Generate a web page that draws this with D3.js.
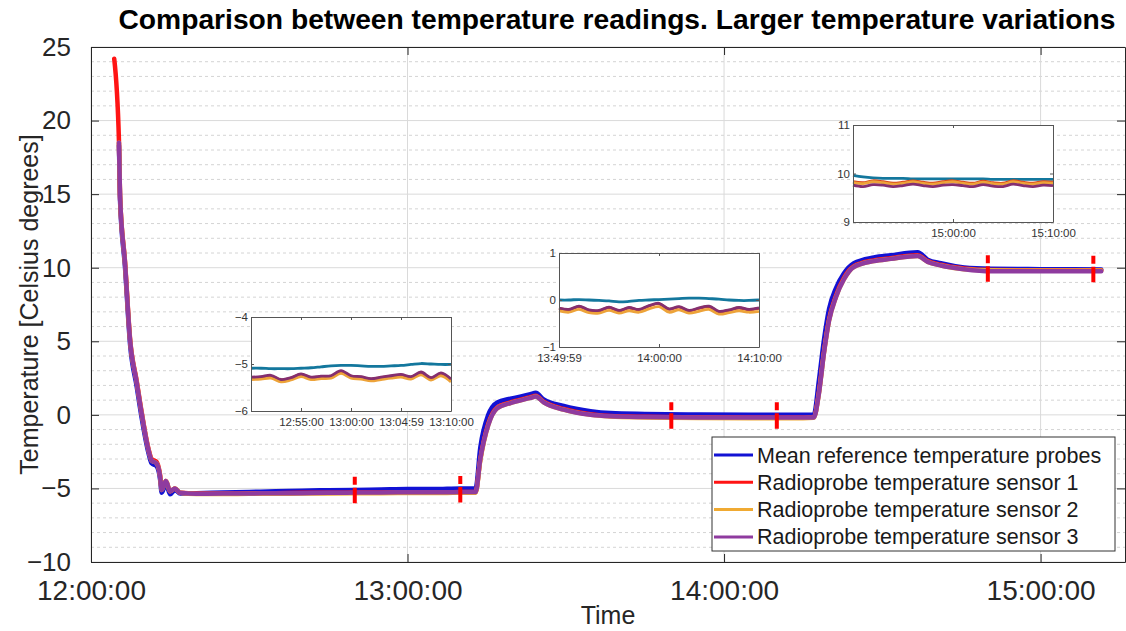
<!DOCTYPE html>
<html>
<head>
<meta charset="utf-8">
<script src="https://cdn.jsdelivr.net/npm/d3@7"></script>
<style>
body{margin:0;background:#fff;}
text{font-family:"Liberation Sans",Arial,sans-serif;}
</style>
</head>
<body>
<svg id="chart" width="1126" height="631"></svg>
<script>
// minutes after 12:00:00
var minutes = [4.4, 5.3, 5.5, 6.45, 7.4, 8.67, 9.6, 10.9, 11.5, 12.45, 13.1, 13.4, 14.2, 15.0, 15.9, 16.9,
	20, 25, 30, 35, 40, 45, 50, 55, 60, 65, 70, 72.9,
	73.8, 75.3, 77.0, 79.5, 83.3, 84.3, 85.8, 89.6, 94.7, 98.5, 105, 115, 125, 135, 137,
	138, 138.9, 139.9, 141.2, 142.7, 144.6, 148.4, 151.6, 156.7, 158.6, 161.1, 165.5, 170.6, 180, 191.5];
var meanRef = [null, 18.3, 14.6, 10.0, 4.8, 1.9, -0.2, -2.6, -3.3, -3.5, -4.4, -5.3, -4.7, -5.4, -5.1, -5.35,
	-5.33, -5.28, -5.24, -5.2, -5.15, -5.12, -5.1, -5.07, -5.04, -5.04, -5.0, -5.0,
	-2.2, 0.0, 0.85, 1.1, 1.4, 1.5, 1.05, 0.6, 0.25, 0.12, 0.06, 0.02, 0.0, 0.0, 0.0,
	2.4, 5.0, 7.2, 8.6, 9.6, 10.3, 10.7, 10.85, 11.05, 10.55, 10.3, 10.02, 9.93, 9.9, 9.88];
var sensor1 = [24.2, 18.6, 14.9, 10.4, 5.2, 2.3, 0.2, -2.3, -3.0, -3.2, -4.1, -5.0, -4.5, -5.2, -5.0, -5.3,
	-5.35, -5.35, -5.33, -5.32, -5.3, -5.3, -5.28, -5.27, -5.26, -5.26, -5.25, -5.25,
	-3.0, -0.6, 0.5, 0.85, 1.2, 1.3, 0.9, 0.4, 0.05, -0.08, -0.13, -0.16, -0.18, -0.18, -0.16,
	1.6, 4.2, 6.5, 8.1, 9.3, 10.1, 10.5, 10.65, 10.85, 10.45, 10.2, 9.95, 9.84, 9.83, 9.83];
var sensor2 = [null, 18.5, 14.9, 10.3, 5.1, 2.2, 0.1, -2.4, -3.1, -3.3, -4.2, -5.1, -4.5, -5.2, -5.0, -5.3,
	-5.38, -5.38, -5.37, -5.36, -5.35, -5.34, -5.33, -5.32, -5.31, -5.31, -5.3, -5.3,
	-3.1, -0.7, 0.45, 0.8, 1.15, 1.25, 0.85, 0.35, 0.0, -0.12, -0.18, -0.22, -0.23, -0.23, -0.2,
	1.5, 4.1, 6.4, 8.0, 9.2, 10.05, 10.45, 10.6, 10.8, 10.4, 10.15, 9.9, 9.82, 9.81, 9.81];
var sensor3 = [null, 18.5, 14.9, 10.3, 5.1, 2.2, 0.1, -2.4, -3.1, -3.3, -4.2, -5.1, -4.5, -5.2, -5.0, -5.3,
	-5.36, -5.35, -5.34, -5.33, -5.32, -5.3, -5.28, -5.27, -5.26, -5.26, -5.25, -5.25,
	-3.0, -0.7, 0.45, 0.8, 1.15, 1.25, 0.85, 0.35, 0.0, -0.1, -0.15, -0.18, -0.18, -0.18, -0.18,
	1.5, 4.1, 6.4, 8.0, 9.2, 10.05, 10.45, 10.6, 10.8, 10.4, 10.15, 9.9, 9.76, 9.76, 9.76];
var seriesNames = ["Mean reference temperature probes", "Radioprobe temperature sensor 1",
	"Radioprobe temperature sensor 2", "Radioprobe temperature sensor 3"];

var xTicks = ["12:00:00", "13:00:00", "14:00:00", "15:00:00"];
var yTicks = [-10, -5, 0, 5, 10, 15, 20, 25];

// red dashed marks: start / end of the zoomed windows
var markTimes = ["12:50:00", "13:10:00", "13:50:00", "14:10:00", "14:50:00", "15:10:00"];
var markValues = [-5.1, -5.05, -0.05, -0.05, 9.95, 9.92];

// insets, one value per minute from the window start
var insetMinutes = [0, 1, 2, 3, 4, 5, 6, 7, 8, 9, 10, 11, 12, 13, 14, 15, 16, 17, 18, 19, 20];

var in1Ref = [-5.09, -5.09, -5.10, -5.10, -5.10, -5.09, -5.08, -5.06, -5.04, -5.03, -5.03, -5.04, -5.05, -5.05, -5.04, -5.03, -5.01, -4.99, -5.00, -5.01, -5.01];
var in1S1 = [-5.29, -5.28, -5.26, -5.34, -5.30, -5.22, -5.29, -5.27, -5.26, -5.16, -5.26, -5.28, -5.32, -5.29, -5.26, -5.24, -5.28, -5.19, -5.30, -5.21, -5.33];
var in1S2 = [-5.33, -5.32, -5.30, -5.38, -5.34, -5.27, -5.33, -5.31, -5.30, -5.20, -5.30, -5.32, -5.36, -5.33, -5.30, -5.28, -5.32, -5.23, -5.34, -5.25, -5.38];
var in1S3 = [-5.28, -5.27, -5.24, -5.33, -5.29, -5.21, -5.28, -5.26, -5.25, -5.14, -5.25, -5.27, -5.31, -5.28, -5.25, -5.22, -5.27, -5.17, -5.29, -5.19, -5.32];
var in1XTicks = ["12:55:00", "13:00:00", "13:05:00", "13:10:00"];
var in1XLabels = ["12:55:00", "13:00:00", "13:04:59", "13:10:00"];
var in1YTicks = [-6, -5, -4];

var in2Ref = [0.00, 0.00, 0.01, 0.00, -0.01, -0.02, -0.04, -0.03, -0.01, 0.00, 0.01, 0.02, 0.03, 0.04, 0.04, 0.03, 0.02, 0.00, -0.01, -0.01, 0.00];
var in2S1 = [-0.18, -0.21, -0.14, -0.22, -0.23, -0.16, -0.23, -0.17, -0.21, -0.13, -0.08, -0.20, -0.15, -0.23, -0.18, -0.14, -0.25, -0.22, -0.17, -0.21, -0.18];
var in2S2 = [-0.23, -0.26, -0.20, -0.27, -0.28, -0.22, -0.28, -0.23, -0.26, -0.19, -0.14, -0.26, -0.21, -0.28, -0.24, -0.20, -0.30, -0.27, -0.23, -0.26, -0.24];
var in2S3 = [-0.17, -0.20, -0.13, -0.21, -0.22, -0.15, -0.22, -0.16, -0.20, -0.12, -0.07, -0.19, -0.14, -0.22, -0.17, -0.13, -0.24, -0.21, -0.16, -0.20, -0.17];
var in2XTicks = ["13:50:00", "14:00:00", "14:10:00"];
var in2XLabels = ["13:49:59", "14:00:00", "14:10:00"];
var in2YTicks = [-1, 0, 1];

var in3Ref = [9.96, 9.93, 9.91, 9.90, 9.90, 9.90, 9.89, 9.89, 9.89, 9.89, 9.89, 9.89, 9.89, 9.89, 9.88, 9.88, 9.88, 9.88, 9.88, 9.88, 9.88];
var in3S1 = [9.83, 9.81, 9.85, 9.83, 9.80, 9.82, 9.85, 9.82, 9.80, 9.83, 9.85, 9.82, 9.80, 9.84, 9.81, 9.80, 9.85, 9.82, 9.80, 9.83, 9.82];
var in3S2 = [9.81, 9.79, 9.83, 9.81, 9.78, 9.80, 9.83, 9.80, 9.78, 9.81, 9.83, 9.80, 9.78, 9.82, 9.79, 9.78, 9.83, 9.80, 9.78, 9.81, 9.80];
var in3S3 = [9.76, 9.73, 9.77, 9.76, 9.73, 9.75, 9.78, 9.75, 9.73, 9.76, 9.77, 9.75, 9.73, 9.77, 9.74, 9.73, 9.78, 9.75, 9.73, 9.76, 9.75];
var in3XTicks = ["14:50:00", "15:00:00", "15:10:00"];
var in3XLabels = ["", "15:00:00", "15:10:00"];
var in3YTicks = [9, 10, 11];

var mainColors = ["#1212d4", "#ff1414", "#f0aa32", "#8f3b9f"];
var insetColors = ["#13779d", "#d9461c", "#eda339", "#842f70"];

var svg = d3.select("#chart");
var parseT = d3.timeParse("%H:%M:%S");
var t0 = parseT("12:00:00");
function atMin(base, m){ return new Date(base.getTime() + m*60000); }

var plot = {left: 91, right: 1125, top: 47, bottom: 562};
var x = d3.scaleTime().domain([parseT("12:00:00"), parseT("15:16:00")]).range([plot.left, plot.right]);
var y = d3.scaleLinear().domain([-10, 25]).range([plot.bottom, plot.top]);

svg.append("rect").attr("x", plot.left).attr("y", plot.top)
	.attr("width", plot.right - plot.left).attr("height", plot.bottom - plot.top)
	.attr("fill", "#fff");

// minor grid (every degree, dotted)
svg.append("g").selectAll("line")
	.data(y.ticks(35).filter(function(v){ return v % 5 !== 0; }))
	.enter().append("line")
	.attr("x1", plot.left).attr("x2", plot.right)
	.attr("y1", function(d){ return y(d); }).attr("y2", function(d){ return y(d); })
	.attr("stroke", "#d4d4d4").attr("stroke-width", 1).attr("stroke-dasharray", "3,3");

// major grid
svg.append("g").selectAll("line")
	.data(yTicks)
	.enter().append("line")
	.attr("x1", plot.left).attr("x2", plot.right)
	.attr("y1", function(d){ return y(d); }).attr("y2", function(d){ return y(d); })
	.attr("stroke", "#dadada").attr("stroke-width", 1);
svg.append("g").selectAll("line")
	.data(xTicks.map(parseT))
	.enter().append("line")
	.attr("y1", plot.top).attr("y2", plot.bottom)
	.attr("x1", function(d){ return x(d); }).attr("x2", function(d){ return x(d); })
	.attr("stroke", "#dadada").attr("stroke-width", 1);

// main lines
var clip = svg.append("clipPath").attr("id", "plotClip").append("rect")
	.attr("x", plot.left).attr("y", plot.top)
	.attr("width", plot.right - plot.left).attr("height", plot.bottom - plot.top);

var line = d3.line()
	.defined(function(d){ return d[1] != null; })
	.curve(d3.curveMonotoneX)
	.x(function(d){ return x(atMin(t0, d[0])); })
	.y(function(d){ return y(d[1]); });

var mainSeries = [meanRef, sensor1, sensor2, sensor3];
var gLines = svg.append("g").attr("clip-path", "url(#plotClip)");
mainSeries.forEach(function(vals, i){
	gLines.append("path")
		.datum(minutes.map(function(m, k){ return [m, vals[k]]; }))
		.attr("d", line)
		.attr("fill", "none")
		.attr("stroke", mainColors[i])
		.attr("stroke-width", 4.5)
		.attr("stroke-linejoin", "round")
		.attr("stroke-linecap", "round");
});

// red dashed marks
svg.append("g").selectAll("line")
	.data(markTimes.map(function(t, i){ return [parseT(t), markValues[i]]; }))
	.enter().append("line")
	.attr("x1", function(d){ return x(d[0]); }).attr("x2", function(d){ return x(d[0]); })
	.attr("y1", function(d){ return y(d[1] + 0.9); }).attr("y2", function(d){ return y(d[1] - 0.9); })
	.attr("stroke", "#ff0000").attr("stroke-width", 4)
	.attr("stroke-dasharray", "8,3,40");

// axes, MATLAB style ticks pointing inwards
var yAxis = svg.append("g").attr("transform", "translate(" + plot.left + ",0)")
	.call(d3.axisLeft(y).tickValues(yTicks).tickSize(-8).tickSizeOuter(0).tickPadding(20));
var yAxisR = svg.append("g").attr("transform", "translate(" + plot.right + ",0)")
	.call(d3.axisRight(y).tickValues(yTicks).tickSize(-8).tickSizeOuter(0).tickFormat(""));
var xAxis = svg.append("g").attr("transform", "translate(0," + plot.bottom + ")")
	.call(d3.axisBottom(x).tickValues(xTicks.map(parseT)).tickSize(-8).tickSizeOuter(0).tickPadding(18)
		.tickFormat(d3.timeFormat("%H:%M:%S")));
var xAxisT = svg.append("g").attr("transform", "translate(0," + plot.top + ")")
	.call(d3.axisTop(x).tickValues(xTicks.map(parseT)).tickSize(-8).tickSizeOuter(0).tickFormat(""));

[yAxis, yAxisR, xAxis, xAxisT].forEach(function(g){
	g.selectAll(".domain").attr("stroke", "#262626");
	g.selectAll(".tick line").attr("stroke", "#262626");
	g.selectAll("text").attr("font-family", "Liberation Sans, Arial, sans-serif")
		.attr("font-size", 26).attr("fill", "#262626");
});
xAxis.selectAll("text").attr("font-size", 28);

// title and axis labels
svg.append("text")
	.attr("x", 617).attr("y", 29)
	.attr("text-anchor", "middle")
	.attr("font-size", 28).attr("font-weight", "bold")
	.attr("textLength", 997).attr("lengthAdjust", "spacingAndGlyphs")
	.text("Comparison between temperature readings. Larger temperature variations");
svg.append("text")
	.attr("transform", "translate(38," + ((plot.top + plot.bottom) / 2) + ") rotate(-90)")
	.attr("text-anchor", "middle")
	.attr("font-size", 25).attr("fill", "#262626")
	.text("Temperature [Celsius degrees]");
svg.append("text")
	.attr("x", (plot.left + plot.right) / 2).attr("y", 624)
	.attr("text-anchor", "middle")
	.attr("font-size", 25).attr("fill", "#262626")
	.text("Time");

// insets
function drawInset(o){
	var ix = d3.scaleTime().domain([parseT(o.from), parseT(o.to)]).range(o.xr);
	var iy = d3.scaleLinear().domain(o.yd).range(o.yr);
	var start = parseT(o.from);
	var g = svg.append("g");
	g.append("rect").attr("x", o.xr[0]).attr("y", o.yr[1])
		.attr("width", o.xr[1] - o.xr[0]).attr("height", o.yr[0] - o.yr[1])
		.attr("fill", "#fff");
	var il = d3.line().curve(d3.curveCatmullRom)
		.x(function(d){ return ix(atMin(start, d[0])); })
		.y(function(d){ return iy(d[1]); });
	o.series.forEach(function(vals, i){
		g.append("path")
			.datum(insetMinutes.map(function(m, k){ return [m, vals[k]]; }))
			.attr("d", il)
			.attr("fill", "none")
			.attr("stroke", insetColors[i])
			.attr("stroke-width", 2.8)
			.attr("stroke-linejoin", "round");
	});
	var tv = o.xt.map(parseT);
	var ax = g.append("g").attr("transform", "translate(0," + o.yr[0] + ")")
		.call(d3.axisBottom(ix).tickValues(tv).tickSize(-3).tickSizeOuter(0).tickPadding(7)
			.tickFormat(function(d, i){ return o.xl[i]; }));
	var axT = g.append("g").attr("transform", "translate(0," + o.yr[1] + ")")
		.call(d3.axisTop(ix).tickValues(tv).tickSize(-3).tickSizeOuter(0).tickFormat(""));
	var ay = g.append("g").attr("transform", "translate(" + o.xr[0] + ",0)")
		.call(d3.axisLeft(iy).tickValues(o.yt).tickSize(-3).tickSizeOuter(0).tickPadding(3)
			.tickFormat(d3.format("d")));
	var ayR = g.append("g").attr("transform", "translate(" + o.xr[1] + ",0)")
		.call(d3.axisRight(iy).tickValues(o.yt).tickSize(-3).tickSizeOuter(0).tickFormat(""));
	[ax, axT, ay, ayR].forEach(function(a){
		a.selectAll(".domain").attr("stroke", "#555");
		a.selectAll(".tick line").attr("stroke", "#555");
		a.selectAll("text").attr("font-family", "Liberation Sans, Arial, sans-serif")
			.attr("font-size", 11.5).attr("fill", "#333");
	});
}

drawInset({from: "12:50:00", to: "13:10:00", xr: [251, 451], yd: [-6, -4], yr: [411, 317],
	series: [in1Ref, in1S1, in1S2, in1S3], xt: in1XTicks, xl: in1XLabels, yt: in1YTicks});
drawInset({from: "13:50:00", to: "14:10:00", xr: [559, 759], yd: [-1, 1], yr: [347, 253],
	series: [in2Ref, in2S1, in2S2, in2S3], xt: in2XTicks, xl: in2XLabels, yt: in2YTicks});
drawInset({from: "14:50:00", to: "15:10:00", xr: [853, 1053], yd: [9, 11], yr: [222, 125],
	series: [in3Ref, in3S1, in3S2, in3S3], xt: in3XTicks, xl: in3XLabels, yt: in3YTicks});

// legend
var leg = svg.append("g").attr("transform", "translate(712,437)");
leg.append("rect").attr("width", 403).attr("height", 114)
	.attr("fill", "#fff").attr("stroke", "#333").attr("stroke-width", 1);
seriesNames.forEach(function(name, i){
	var ry = 18 + i * 27.3;
	leg.append("line").attr("x1", 2).attr("x2", 41).attr("y1", ry).attr("y2", ry)
		.attr("stroke", mainColors[i]).attr("stroke-width", 3);
	leg.append("text").attr("x", 45).attr("y", ry + 7.5)
		.attr("font-size", 21.5).attr("fill", "#1a1a1a")
		.text(name);
});
</script>
</body>
</html>
